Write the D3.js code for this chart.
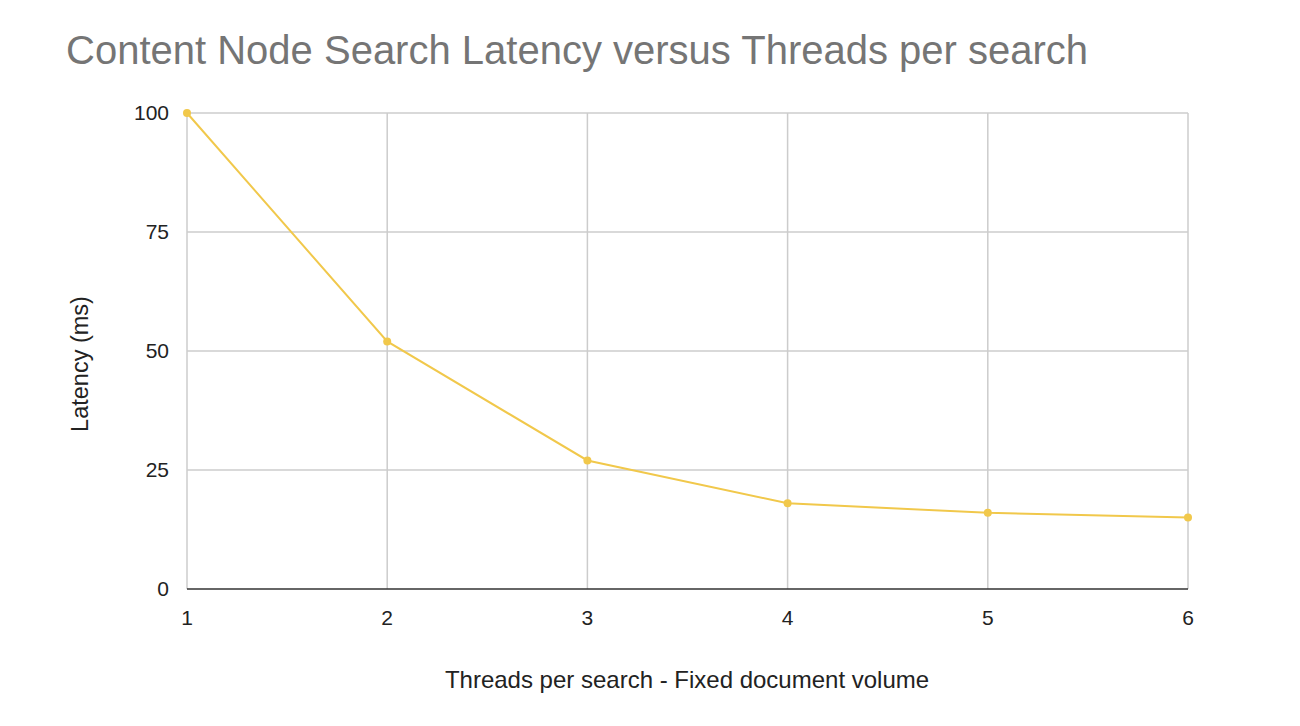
<!DOCTYPE html>
<html><head><meta charset="utf-8">
<script src="https://cdn.jsdelivr.net/npm/d3@7"></script>
<style>body{margin:0;background:#fff}</style></head>
<body><svg id="c" width="1300" height="726"></svg>
<script>
const threads = [1,2,3,4,5,6];
const latency = [100,52,27,18,16,15];
const yTicks = [0,25,50,75,100];
const svg = d3.select("#c");
const font = "Arial, 'Liberation Sans', sans-serif";
const x = d3.scaleLinear().domain([1,6]).range([187,1188]);
const y = d3.scaleLinear().domain([0,100]).range([589,113]);
svg.append("text").attr("x",66).attr("y",64).attr("font-family",font).attr("font-size",40).attr("fill","#757575").text("Content Node Search Latency versus Threads per search");
svg.append("g").selectAll("line").data(yTicks.filter(d=>d>0)).join("line")
  .attr("x1",187).attr("x2",1188).attr("y1",d=>y(d)).attr("y2",d=>y(d)).attr("stroke","#ccc").attr("stroke-width",1.5);
svg.append("g").selectAll("line").data(threads).join("line")
  .attr("x1",d=>x(d)).attr("x2",d=>x(d)).attr("y1",113).attr("y2",589).attr("stroke","#ccc").attr("stroke-width",1.5);
svg.append("line").attr("x1",187).attr("x2",1188).attr("y1",589).attr("y2",589).attr("stroke","#333").attr("stroke-width",1.5);
svg.append("g").selectAll("text").data(yTicks).join("text")
  .attr("x",169).attr("y",d=>y(d)+7).attr("text-anchor","end").attr("font-family",font).attr("font-size",21).attr("fill","#222").text(d=>d);
svg.append("g").selectAll("text").data(threads).join("text")
  .attr("x",d=>x(d)).attr("y",625).attr("text-anchor","middle").attr("font-family",font).attr("font-size",21).attr("fill","#222").text(d=>d);
svg.append("text").attr("x",687).attr("y",688).attr("text-anchor","middle").attr("font-family",font).attr("font-size",24).attr("fill","#222").text("Threads per search - Fixed document volume");
svg.append("text").attr("transform","translate(88,364) rotate(-90)").attr("text-anchor","middle").attr("font-family",font).attr("font-size",23.5).attr("fill","#222").text("Latency (ms)");
const pts = threads.map((t,i)=>[t,latency[i]]);
svg.append("path").datum(pts).attr("d",d3.line().x(d=>x(d[0])).y(d=>y(d[1]))).attr("fill","none").attr("stroke","#f1c84b").attr("stroke-width",2);
svg.append("g").selectAll("circle").data(pts).join("circle").attr("cx",d=>x(d[0])).attr("cy",d=>y(d[1])).attr("r",4).attr("fill","#f1c84b");
</script></body></html>
